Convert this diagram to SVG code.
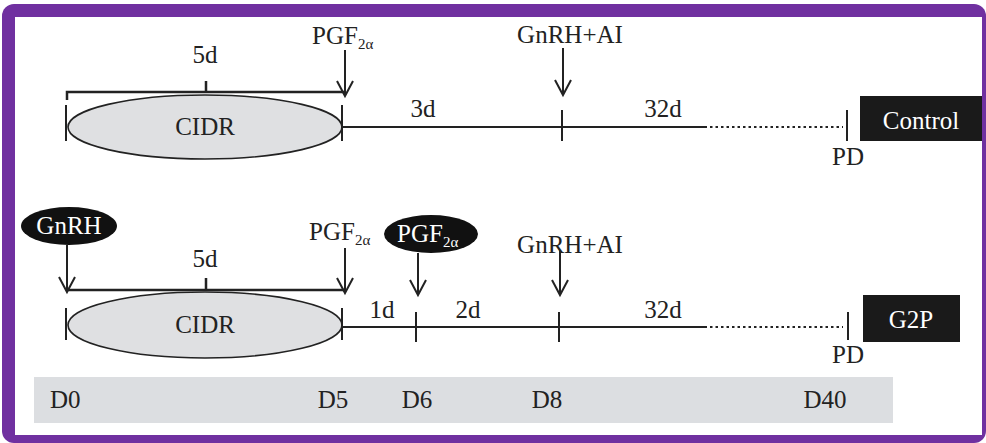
<svg xmlns="http://www.w3.org/2000/svg" width="986" height="443" viewBox="0 0 986 443">
<style>
.t{font-family:'Liberation Serif',serif;font-size:25px;fill:#222}
.w{fill:#fff}
.ln{stroke:#222;stroke-width:2;fill:none}
.br{stroke:#222;stroke-width:2.5;fill:none}
.dot{stroke:#222;stroke-width:2;stroke-dasharray:2.5 3;fill:none}
.cidr{fill:#dfe0e2;stroke:#222;stroke-width:1.6}
.sub{font-size:15px}
</style>
<rect x="2" y="4" width="984" height="439" rx="12" fill="#7030a0"/>
<rect x="15" y="17" width="967" height="418" fill="#fff"/>
<rect id="daybar" x="34" y="377" width="859" height="46" fill="#dcdee1"/>

<g id="control-row">
<ellipse id="cidr1" class="cidr" cx="205" cy="127" rx="137" ry="32"/>
<text class="t" x="205" y="135" text-anchor="middle" font-size="26">CIDR</text>
<text class="t" x="205" y="63" text-anchor="middle">5d</text>
<text class="t" x="312" y="44">PGF<tspan class="sub" dy="5">2α</tspan></text>
<text class="t" x="570" y="43" text-anchor="middle">GnRH+AI</text>
<text class="t" x="423" y="117" text-anchor="middle">3d</text>
<text class="t" x="663" y="117" text-anchor="middle">32d</text>
<text class="t" x="848" y="165" text-anchor="middle">PD</text>
<g id="control-box"><rect x="860" y="96" width="122" height="45" fill="#1a1a1a"/>
<text class="t w" x="921" y="129" text-anchor="middle">Control</text></g>
</g>

<g id="g2p-row">
<ellipse id="cidr2" class="cidr" cx="205" cy="325" rx="137" ry="33"/>
<text class="t" x="205" y="333" text-anchor="middle" font-size="26">CIDR</text>
<text class="t" x="205" y="267" text-anchor="middle">5d</text>
<g id="gnrh-node"><ellipse cx="69" cy="226" rx="48" ry="19" fill="#111"/>
<text class="t w" x="69" y="234" text-anchor="middle">GnRH</text></g>
<text class="t" x="309" y="240">PGF<tspan class="sub" dy="5">2α</tspan></text>
<g id="pgf-node"><ellipse cx="431" cy="234" rx="47" ry="19" fill="#111"/>
<text class="t w" x="397" y="242">PGF<tspan class="sub" dy="5">2α</tspan></text></g>
<text class="t" x="570" y="253" text-anchor="middle">GnRH+AI</text>
<text class="t" x="382" y="318" text-anchor="middle">1d</text>
<text class="t" x="468" y="318" text-anchor="middle">2d</text>
<text class="t" x="663" y="318" text-anchor="middle">32d</text>
<text class="t" x="848" y="363" text-anchor="middle">PD</text>
<g id="g2p-box"><rect x="863" y="295" width="97" height="47" fill="#1a1a1a"/>
<text class="t w" x="911" y="328" text-anchor="middle">G2P</text></g>
</g>

<g id="days">
<text class="t" x="50" y="408">D0</text>
<text class="t" x="333" y="408" text-anchor="middle">D5</text>
<text class="t" x="417" y="408" text-anchor="middle">D6</text>
<text class="t" x="547" y="408" text-anchor="middle">D8</text>
<text class="t" x="825" y="408" text-anchor="middle">D40</text>
</g>

<g id="connectors">
<path class="br" d="M67,100 L67,92 L345,92 M206,92 L206,81"/>
<path class="ln" d="M66,105 L66,141 M342,105 L342,141 M342,127 L707,127 M562,110 L562,141 M847,110 L847,141"/>
<path class="dot" d="M710,127 L843,127"/>
<path class="ln" d="M345,50 L345,96 M337,81 L345,96 L353,81"/>
<path class="ln" d="M563,48 L563,95 M555,80 L563,95 L571,80"/>
<path class="br" d="M67,290 L345,290 M206,290 L206,278"/>
<path class="ln" d="M66,308 L66,340 M342,308 L342,340 M342,327 L707,327 M416,312 L416,342 M559,312 L559,342 M848,312 L848,340"/>
<path class="dot" d="M710,327 L843,327"/>
<path class="ln" d="M67,245 L67,292 M59,277 L67,292 L75,277"/>
<path class="ln" d="M345,248 L345,293 M337,278 L345,293 L353,278"/>
<path class="ln" d="M418,253 L418,295 M410,280 L418,295 L426,280"/>
<path class="ln" d="M560,250 L560,295 M552,280 L560,295 L568,280"/>
</g>
</svg>
